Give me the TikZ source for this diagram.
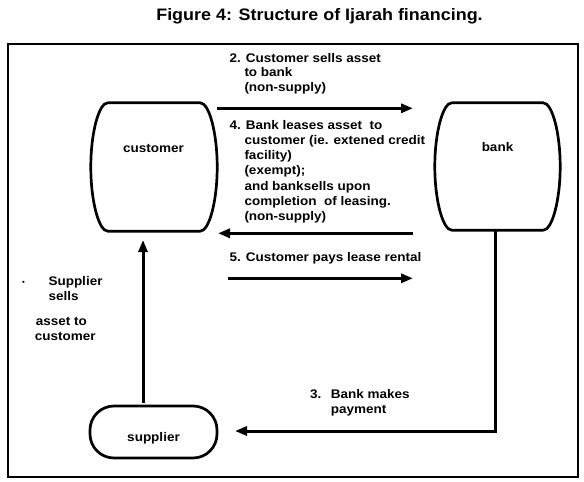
\documentclass[tikz,border=0pt]{standalone}
\usepackage{fontspec}
\setmainfont{Liberation Sans}[FakeStretch=1.08]
\usetikzlibrary{arrows.meta,calc}
\tikzset{
  outline/.style={line width=2.7pt, line join=round},
  arr/.style={line width=3pt, -{Triangle[length=12pt,width=9pt]}},
  frame/.style={line width=2pt},
  lbl/.style={inner sep=0pt, anchor=base west, font=\fontsize{12.5}{15}\selectfont\bfseries},
  lblc/.style={inner sep=0pt, anchor=base, font=\fontsize{12.5}{15}\selectfont\bfseries},
}
\newcommand\barrel[1]{%
  \draw[outline] let \p1=(#1.north west), \p2=(#1.south east), \p3=(#1.east) in
    (\x1+17pt,\y1) -- (\x2-17pt,\y1)
    .. controls (\x2-8pt,\y1) and (\x2,\y1-30pt) .. (\x2,\y3)
    .. controls (\x2,\y2+30pt) and (\x2-8pt,\y2) .. (\x2-17pt,\y2)
    -- (\x1+17pt,\y2)
    .. controls (\x1+8pt,\y2) and (\x1,\y2+30pt) .. (\x1,\y3)
    .. controls (\x1,\y1-30pt) and (\x1+8pt,\y1) .. cycle;}
\begin{document}
\begin{tikzpicture}[x=1pt,y=-1pt]
\useasboundingbox (0,0) rectangle (584,482);
% title
\node[inner sep=0pt, anchor=base, font=\fontsize{16.6}{19}\selectfont\bfseries] (title) at (319.5,20) {Figure 4: Structure of Ijarah financing.};
% frame
\draw[frame] (8.3,44) rectangle (577.5,477);
% shapes
\node[inner sep=0pt, minimum width=126pt, minimum height=128pt] (customer) at (154,167) {};
\node[inner sep=0pt, minimum width=125pt, minimum height=127pt] (bank) at (497.5,166.5) {};
\node[draw, outline, rounded corners=24pt, inner sep=0pt, minimum width=127pt, minimum height=52pt] (supplier) at (153.5,432) {};
\barrel{customer}
\barrel{bank}
\node[lblc] (customertext) at (153.5,152.5) {customer};
\node[lblc] (banktext) at (497.5,151.7) {bank};
\node[lblc] (suppliertext) at (153.5,441.7) {supplier};
% connectors
\coordinate (a2e) at (413,108.3);
\coordinate (a4s) at (413,233.3);
\coordinate (a4e) at (218,233.3);
\coordinate (a5s) at (228.3,278.3);
\coordinate (a5e) at (413,278.3);
\coordinate (supS) at (143,403);
\coordinate (supE) at (143,240);
\coordinate (payE) at (235,431);
\draw[arr] (customer.east |- a2e) -- (a2e);
\draw[arr] (a4s) -- (a4e);
\draw[arr] (a5s) -- (a5e);
\draw[arr] (supS) -- (supE);
\draw[arr, line join=miter] ([xshift=-2.5pt]bank.south) -- ([xshift=-2.5pt]bank.south |- payE) -- (payE);
% labels
\node[lbl] (t2a) at (229.3,62.5) {2. Customer sells asset};
\node[lbl] (t2b) at (244.3,76.9) {to bank};
\node[lbl] (t2c) at (244.3,91.5) {(non-supply)};
\node[lbl] (t4a) at (229.3,129.3) {4. Bank leases asset\ \ to};
\node[lbl] (t4b) at (244.3,144.5) {customer (ie. extened credit};
\node[lbl] (t4c) at (244.3,159.5) {facility)};
\node[lbl] (t4d) at (244.3,174.8) {(exempt);};
\node[lbl] (t4e) at (244.3,190.2) {and banksells upon};
\node[lbl] (t4f) at (244.3,205.5) {completion\ \ of leasing.};
\node[lbl] (t4g) at (244.3,220.8) {(non-supply)};
\node[lbl] (t5) at (229.3,261.2) {5. Customer pays lease rental};
\node[lbl] (t1dot) at (21.3,286) {·};
\node[lbl] (t1a) at (48.3,285) {Supplier};
\node[lbl] (t1b) at (48.3,300.5) {sells};
\node[lbl] (t1c) at (35.7,325) {asset to};
\node[lbl] (t1d) at (34.7,340.5) {customer};
\node[lbl] (t3a) at (310,398.3) {3.};
\node[lbl] (t3b) at (330.7,398.3) {Bank makes};
\node[lbl] (t3c) at (330.7,413.3) {payment};
\end{tikzpicture}
\end{document}
